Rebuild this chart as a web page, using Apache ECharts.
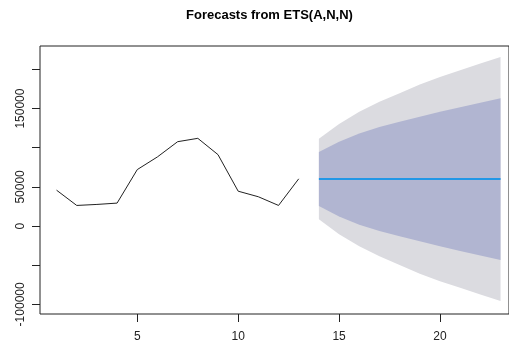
<!DOCTYPE html>
<html>
<head>
<meta charset="utf-8">
<script src="https://cdn.jsdelivr.net/npm/echarts@6/dist/echarts.min.js"></script>
<style>
  html, body { margin: 0; padding: 0; background: #fff; }
  #chart { width: 509px; height: 343px; }
</style>
</head>
<body>
<div id="chart"></div>
<script>
// Observed series (time index 1..13)
const histX = [1, 2, 3, 4, 5, 6, 7, 8, 9, 10, 11, 12, 13];
const histY = [45800, 26300, 27600, 29300, 72100, 88300, 107700, 112000, 91200, 44500, 37400, 26300, 60300];

// Forecast horizon (time index 14..23) with point forecast and prediction intervals
const fcX = [14, 15, 16, 17, 18, 19, 20, 21, 22, 23];
const fcMean = [60000, 60000, 60000, 60000, 60000, 60000, 60000, 60000, 60000, 60000];
const lo80 = [25500, 12300, 1700, -6400, -13100, -19500, -25800, -31700, -37500, -43200];
const hi80 = [94500, 107700, 118300, 126400, 133100, 139500, 145800, 151700, 157500, 163200];
const lo95 = [8600, -10400, -25900, -38600, -49600, -60900, -70400, -78900, -87400, -95800];
const hi95 = [111400, 130400, 145900, 158600, 169600, 180900, 190400, 198900, 207400, 215800];

// Axis ticks and the labels that are printed
const xTicks = [5, 10, 15, 20];
const yTicks = [-100000, -50000, 0, 50000, 100000, 150000, 200000];
const yLabels = [-100000, 0, 50000, 150000];

const chart = echarts.init(document.getElementById('chart'), null, { renderer: 'canvas' });

// Polygon for a prediction band: upper edge forward, lower edge back
function bandSeries(name, lo, hi, color, z) {
  return {
    name: name,
    type: 'custom',
    z: z,
    silent: true,
    data: [0],
    renderItem: function (params, api) {
      const pts = [];
      for (let i = 0; i < fcX.length; i++) pts.push(api.coord([fcX[i], hi[i]]));
      for (let i = fcX.length - 1; i >= 0; i--) pts.push(api.coord([fcX[i], lo[i]]));
      return {
        type: 'polygon',
        shape: { points: pts },
        style: { fill: color, stroke: null }
      };
    }
  };
}

const fontFamily = '"Liberation Sans", Arial, sans-serif';

chart.setOption({
  animation: false,
  backgroundColor: '#ffffff',
  title: {
    text: 'Forecasts from ETS(A,N,N)',
    left: 186,
    top: 9,
    padding: 0,
    textStyle: { fontFamily: fontFamily, fontSize: 13, fontWeight: 'bold', color: '#000' }
  },
  grid: {
    left: 40, right: -2, top: 46, bottom: 28,
    show: true, borderColor: '#222', borderWidth: 1, backgroundColor: 'transparent'
  },
  xAxis: {
    type: 'value',
    min: 0.18, max: 23.42,
    splitLine: { show: false },
    axisLine: { show: false, onZero: false },
    axisTick: { show: true, length: 8, inside: false, customValues: xTicks, lineStyle: { color: '#222' } },
    axisLabel: {
      customValues: xTicks, margin: 17,
      fontFamily: fontFamily, fontSize: 12, color: '#222'
    }
  },
  yAxis: {
    type: 'value',
    min: -112300, max: 229900,
    splitLine: { show: false },
    axisLine: { show: false, onZero: false },
    axisTick: { show: true, length: 8, inside: false, customValues: yTicks, lineStyle: { color: '#222' } },
    axisLabel: {
      customValues: yLabels, rotate: 90, margin: 13,
      fontFamily: fontFamily, fontSize: 12, color: '#222',
      formatter: function (v) { return String(v); }
    }
  },
  series: [
    bandSeries('95%', lo95, hi95, '#DBDBE0', 1),
    bandSeries('80%', lo80, hi80, '#B1B5D1', 2),
    {
      name: 'forecast',
      type: 'line',
      z: 3,
      symbol: 'none',
      data: fcX.map((x, i) => [x, fcMean[i]]),
      lineStyle: { color: '#2297E6', width: 2 }
    },
    {
      name: 'observed',
      type: 'line',
      z: 3,
      symbol: 'none',
      data: histX.map((x, i) => [x, histY[i]]),
      lineStyle: { color: '#222', width: 1 }
    }
  ]
});
</script>
</body>
</html>
